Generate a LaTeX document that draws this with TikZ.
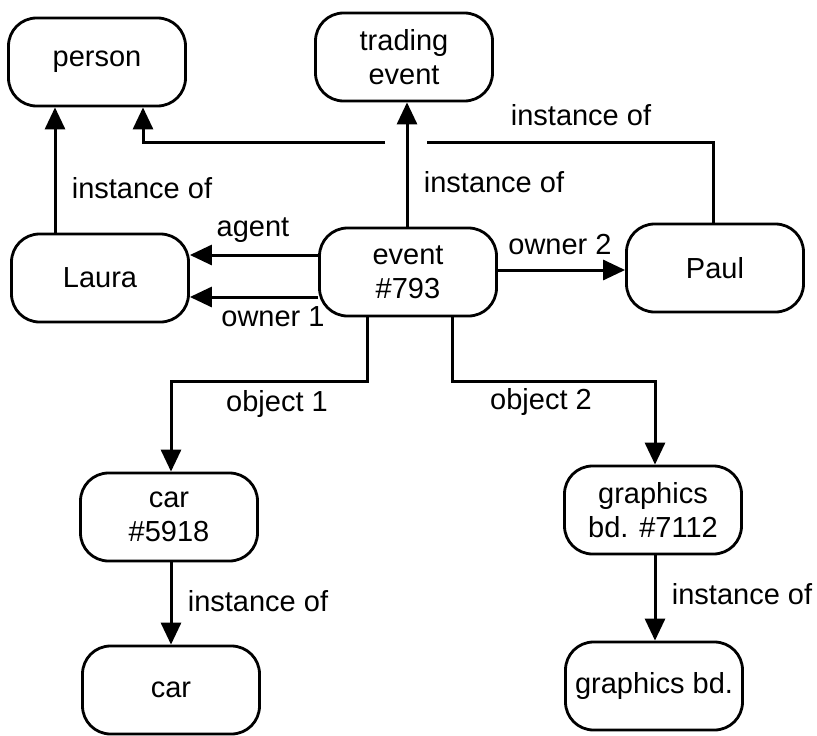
\documentclass[tikz,border=0pt]{standalone}
\usepackage{fontspec}
\setmainfont{Liberation Sans}
\usetikzlibrary{arrows.meta}
\begin{document}
\begin{tikzpicture}[x=1pt,y=-1pt,
  box/.style={draw, line width=2.8pt, rounded corners=28pt, minimum width=177pt, minimum height=88pt, align=center, inner sep=2pt, font=\fontsize{29}{34}\selectfont},
  lbl/.style={font=\fontsize{29}{34}\selectfont, inner sep=0pt},
  conn/.style={line width=3pt},
  arr/.style={conn, -{Triangle[width=20pt,length=22pt]}}]
\useasboundingbox (0,0) rectangle (817,736);
% nodes
\node[box] (person)  at (97,62)   {person};
\node[box] (trading) at (404,57)  {trading\\event};
\node[box] (laura)   at (100,278) {Laura};
\node[box] (event)   at (408,272) {event\\\#793};
\node[box] (paul)    at (715,268) {Paul};
\node[box] (car1)    at (169,517) {car\\\#5918};
\node[box] (car)     at (171,690) {car};
\node[box] (gb1)     at (653,510) {graphics\\bd. \#7112};
\node[box] (gb)      at (654,686) {graphics bd.};
% helper coordinates
\coordinate (xl) at (55,0);
\coordinate (xt) at (407,0);
\coordinate (xp) at (713,0);
\coordinate (xq) at (143,0);
\coordinate (yh) at (0,142);
\coordinate (gapR) at (427,142);
\coordinate (gapL) at (385,142);
\coordinate (ya) at (0,255);
\coordinate (yo) at (0,297);
\coordinate (y2) at (0,270);
\coordinate (xo1) at (367,0);
\coordinate (xo2) at (452,0);
\coordinate (yb) at (0,381);
\coordinate (xc) at (171,0);
\coordinate (xg) at (655,0);
% connectors
\draw[arr] (laura.north -| xl) -- (person.south -| xl);
\draw[arr] (event.north -| xt) -- (trading.south -| xt);
\draw[conn] (paul.north -| xp) |- (gapR);
\draw[arr] (gapL) -| (person.south -| xq);
\draw[arr] (event.west |- ya) -- (laura.east |- ya);
\draw[arr] (event.west |- yo) -- (laura.east |- yo);
\draw[arr] (event.east |- y2) -- (paul.west |- y2);
\draw[arr] (event.south -| xo1) |- (yb -| xc) -- (car1.north -| xc);
\draw[arr] (event.south -| xo2) |- (yb -| xg) -- (gb1.north -| xg);
\draw[arr] (car1.south -| xc) -- (car.north -| xc);
\draw[arr] (gb1.south -| xg) -- (gb.north -| xg);
% labels
\node[lbl] (l1) at (142,188) {instance of};
\node[lbl] (l2) at (494,182) {instance of};
\node[lbl] (l3) at (581,115) {instance of};
\node[lbl] (l4) at (253,230) {agent};
\node[lbl] (l5) at (273,317) {owner 1};
\node[lbl] (l6) at (560,245) {owner 2};
\node[lbl] (l7) at (277,404) {object 1};
\node[lbl] (l8) at (541,402) {object 2};
\node[lbl] (l9) at (258,601) {instance of};
\node[lbl] (l10) at (742,594) {instance of};
\end{tikzpicture}
\end{document}
